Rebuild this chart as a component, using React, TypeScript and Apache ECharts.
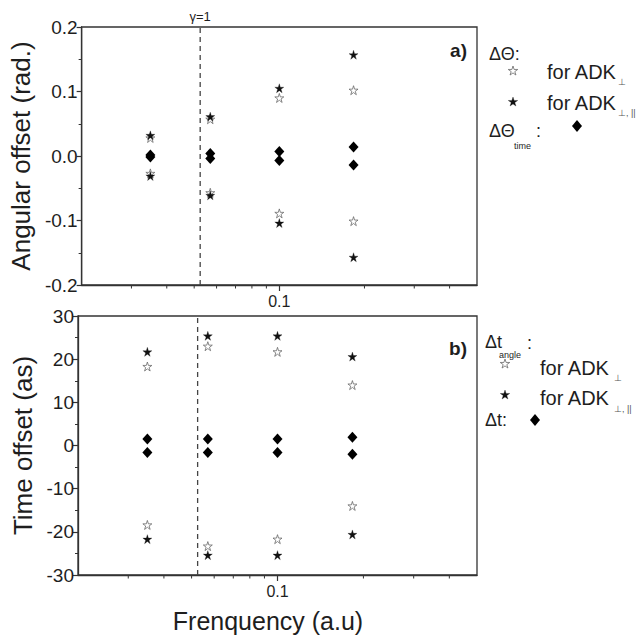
import React, { useEffect, useRef } from "react";
import * as echarts from "echarts";

// Laser frequencies (a.u.) of the four simulated cases
const FREQ = [0.035, 0.057, 0.1, 0.183];
// Frequency at which the Keldysh parameter equals 1
const GAMMA_ONE_FREQ = 0.0525;
// Minor ticks of the logarithmic frequency axis
const X_MINOR_TICKS = [0.03, 0.04, 0.05, 0.06, 0.07, 0.08, 0.09, 0.2, 0.3, 0.4];

// Panel a) angular offsets (rad.)
const ANGLE_ADK_PERP_UP = [0.028, 0.057, 0.09, 0.102];
const ANGLE_ADK_PERP_DOWN = [-0.027, -0.057, -0.089, -0.101];
const ANGLE_ADK_FULL_UP = [0.032, 0.061, 0.105, 0.157];
const ANGLE_ADK_FULL_DOWN = [-0.031, -0.061, -0.104, -0.157];
const ANGLE_TIME_UP = [0.0015, 0.004, 0.007, 0.014];
const ANGLE_TIME_DOWN = [-0.0015, -0.004, -0.007, -0.014];

// Panel b) time offsets (as)
const TIME_ADK_PERP_UP = [18.3, 23.0, 21.7, 14.0];
const TIME_ADK_PERP_DOWN = [-18.4, -23.3, -21.7, -14.0];
const TIME_ADK_FULL_UP = [21.7, 25.4, 25.4, 20.6];
const TIME_ADK_FULL_DOWN = [-21.7, -25.4, -25.4, -20.6];
const TIME_DT_UP = [1.5, 1.5, 1.5, 1.9];
const TIME_DT_DOWN = [-1.6, -1.6, -1.6, -2.0];

const FONT = "Liberation Sans, Arial, sans-serif";
const AXIS_COLOR = "#333333";
const STAR_PATH =
  "path://M0,-100L22,-31L95,-31L36,12L59,81L0,38L-59,81L-36,12L-95,-31L-22,-31Z";

const pairs = (up: number[], down: number[]) => [
  ...FREQ.map((f, i) => [f, up[i]]),
  ...FREQ.map((f, i) => [f, down[i]]),
];

const openStarStyle = { color: "#ffffff", borderColor: "#6a6a6a", borderWidth: 0.8, opacity: 1 };
const fullStarStyle = { color: "#111111", borderColor: "#111111", borderWidth: 0.3, opacity: 1 };
const diamondStyle = { color: "#000000", opacity: 1 };

function starPoints(cx: number, cy: number, r: number) {
  const pts: number[][] = [];
  for (let k = 0; k < 10; k++) {
    const rr = k % 2 === 0 ? r : r * 0.382;
    const a = -Math.PI / 2 + (k * Math.PI) / 5;
    pts.push([cx + rr * Math.cos(a), cy + rr * Math.sin(a)]);
  }
  return pts;
}

function txt(x: number, y: number, text: string, size: number, extra: any = {}) {
  return {
    type: "text",
    x,
    y,
    style: {
      text,
      fontSize: size,
      fontFamily: FONT,
      fill: "#1e1e1e",
      align: "left",
      verticalAlign: "middle",
      ...extra,
    },
  };
}

function openStar(cx: number, cy: number) {
  return {
    type: "polygon",
    shape: { points: starPoints(cx, cy, 5) },
    style: { fill: "#fff", stroke: "#6a6a6a", lineWidth: 0.8 },
  };
}
function fullStar(cx: number, cy: number) {
  return {
    type: "polygon",
    shape: { points: starPoints(cx, cy, 5) },
    style: { fill: "#111", stroke: "#111", lineWidth: 0.3 },
  };
}
function diamond(cx: number, cy: number) {
  return {
    type: "polygon",
    shape: { points: [[cx, cy - 6], [cx + 5, cy], [cx, cy + 6], [cx - 5, cy]] },
    style: { fill: "#000" },
  };
}

function xAxis(gridIndex: number) {
  return {
    type: "log",
    logBase: 10,
    gridIndex,
    min: 0.02,
    max: 0.5,
    axisLine: { show: true, onZero: false, lineStyle: { color: AXIS_COLOR, width: 1.3 } },
    axisTick: { show: true, length: 6, lineStyle: { color: AXIS_COLOR, width: 1.2 } },
    axisLabel: {
      showMinLabel: false,
      showMaxLabel: false,
      fontSize: 16,
      fontFamily: FONT,
      color: "#1e1e1e",
      margin: 8,
    },
    splitLine: { show: false },
  };
}

function yAxis(gridIndex: number, min: number, max: number, interval: number, name: string, digits: number) {
  return {
    type: "value",
    gridIndex,
    min,
    max,
    interval,
    name,
    nameLocation: "middle",
    nameGap: 42,
    nameTextStyle: { fontSize: 26, fontFamily: FONT, color: "#1e1e1e" },
    axisLine: { show: true, onZero: false, lineStyle: { color: AXIS_COLOR, width: 1.3 } },
    axisTick: { show: true, length: 5, lineStyle: { color: AXIS_COLOR, width: 1.2 } },
    minorTick: { show: true, splitNumber: 2, length: 3, lineStyle: { color: AXIS_COLOR, width: 1 } },
    axisLabel: {
      fontSize: 19,
      fontFamily: FONT,
      color: "#1e1e1e",
      margin: 4,
      formatter: (v: number) => v.toFixed(digits),
    },
    splitLine: { show: false },
  };
}

// Short outward ticks at the intermediate values of the log frequency axis
function minorTickSeries(idx: number, yMin: number) {
  return {
    type: "custom",
    xAxisIndex: idx,
    yAxisIndex: idx,
    silent: true,
    clip: false,
    z: 1,
    data: X_MINOR_TICKS.map((v) => [v, yMin]),
    renderItem: (_params: any, api: any) => {
      const p = api.coord([api.value(0), api.value(1)]);
      return {
        type: "line",
        shape: { x1: p[0], y1: p[1], x2: p[0], y2: p[1] + 3.5 },
        style: { stroke: AXIS_COLOR, lineWidth: 1 },
      };
    },
  };
}

// Dashed vertical line marking the gamma = 1 frequency
function gammaLineSeries(idx: number, yMin: number, yMax: number, withLabel: boolean) {
  return {
    type: "custom",
    xAxisIndex: idx,
    yAxisIndex: idx,
    silent: true,
    clip: false,
    z: 2,
    encode: { x: 0, y: [1, 2] },
    data: [[GAMMA_ONE_FREQ, yMin, yMax]],
    renderItem: (_params: any, api: any) => {
      const p1 = api.coord([api.value(0), api.value(1)]);
      const p2 = api.coord([api.value(0), api.value(2)]);
      const children: any[] = [
        {
          type: "line",
          shape: { x1: p1[0], y1: p1[1], x2: p2[0], y2: p2[1] },
          style: { stroke: "#444", lineWidth: 1.3, lineDash: [5, 4] },
        },
      ];
      if (withLabel) {
        children.push({
          type: "text",
          x: p2[0],
          y: p2[1] - 4,
          style: {
            text: "γ=1",
            fontSize: 13,
            fontFamily: FONT,
            fill: "#1e1e1e",
            align: "center",
            verticalAlign: "bottom",
          },
        });
      }
      return { type: "group", children };
    },
  };
}

function panelSeries(
  idx: number,
  perpUp: number[],
  perpDown: number[],
  fullUp: number[],
  fullDown: number[],
  dUp: number[],
  dDown: number[]
) {
  return [
    {
      type: "scatter",
      xAxisIndex: idx,
      yAxisIndex: idx,
      symbol: STAR_PATH,
      symbolSize: 9,
      itemStyle: openStarStyle,
      data: pairs(perpUp, perpDown),
      z: 3,
    },
    {
      type: "scatter",
      xAxisIndex: idx,
      yAxisIndex: idx,
      symbol: STAR_PATH,
      symbolSize: 9,
      itemStyle: fullStarStyle,
      data: pairs(fullUp, fullDown),
      z: 4,
    },
    {
      type: "scatter",
      xAxisIndex: idx,
      yAxisIndex: idx,
      symbol: "diamond",
      symbolSize: [10, 11],
      itemStyle: diamondStyle,
      data: pairs(dUp, dDown),
      z: 5,
    },
  ];
}

export default function App() {
  const ref = useRef<HTMLDivElement>(null);

  useEffect(() => {
    document.body.style.margin = "0";
    if (!ref.current) return;
    const chart = echarts.init(ref.current, null, { renderer: "svg" });

    const gridStyle = { show: true, borderColor: AXIS_COLOR, borderWidth: 1.3, backgroundColor: "transparent" };

    chart.setOption({
      animation: false,
      backgroundColor: "#ffffff",
      grid: [
        { left: 78, top: 27, width: 399, height: 258, ...gridStyle },
        { left: 78, top: 316, width: 399, height: 259, ...gridStyle },
      ],
      xAxis: [xAxis(0), xAxis(1)],
      yAxis: [
        yAxis(0, -0.2, 0.2, 0.1, "Angular offset (rad.)", 1),
        yAxis(1, -30, 30, 10, "Time offset (as)", 0),
      ],
      series: [
        minorTickSeries(0, -0.2),
        minorTickSeries(1, -30),
        gammaLineSeries(0, -0.2, 0.2, true),
        gammaLineSeries(1, -30, 30, false),
        ...panelSeries(0, ANGLE_ADK_PERP_UP, ANGLE_ADK_PERP_DOWN, ANGLE_ADK_FULL_UP, ANGLE_ADK_FULL_DOWN, ANGLE_TIME_UP, ANGLE_TIME_DOWN),
        ...panelSeries(1, TIME_ADK_PERP_UP, TIME_ADK_PERP_DOWN, TIME_ADK_FULL_UP, TIME_ADK_FULL_DOWN, TIME_DT_UP, TIME_DT_DOWN),
      ],
      graphic: [
        // x-axis title
        txt(268, 621, "Frenquency (a.u)", 25, { align: "center" }),
        // panel tags
        txt(467, 50, "a)", 19, { align: "right", fontWeight: "bold" }),
        txt(467, 348, "b)", 19, { align: "right", fontWeight: "bold" }),

        // legend of panel a)
        txt(489, 54, "ΔΘ:", 18),
        openStar(513, 71),
        txt(547, 72, "for ADK", 20),
        txt(618, 82, "⊥", 9, { fill: "#555" }),
        fullStar(513, 102),
        txt(547, 103, "for ADK", 20),
        txt(618, 113, "⊥, ||", 9, { fill: "#555" }),
        txt(489, 131, "ΔΘ", 18),
        txt(514, 146, "time", 9),
        txt(536, 131, ":", 18),
        diamond(577, 126),

        // legend of panel b)
        txt(485, 342, "Δt", 18),
        txt(499, 355, "angle", 9),
        txt(527, 343, ":", 18),
        openStar(505, 364),
        txt(540, 368, "for ADK", 20),
        txt(614, 378, "⊥", 9, { fill: "#555" }),
        fullStar(505, 395),
        txt(540, 398, "for ADK", 20),
        txt(614, 409, "⊥, ||", 9, { fill: "#555" }),
        txt(485, 420, "Δt:", 18),
        diamond(535, 420),
      ],
    });

    return () => chart.dispose();
  }, []);

  return <div ref={ref} style={{ width: 636, height: 637 }} />;
}
